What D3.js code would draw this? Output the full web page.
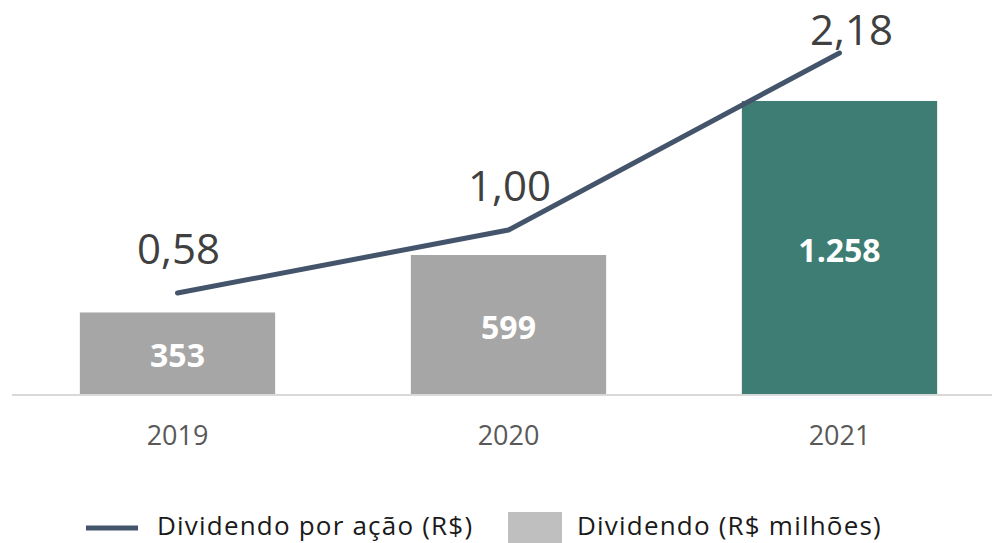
<!DOCTYPE html>
<html>
<head>
<meta charset="utf-8">
<script src="https://cdn.jsdelivr.net/npm/d3@7"></script>
<style>
  body { margin: 0; background: #fff; }
  .axis-label { font-family: "Open Sans", sans-serif; font-size: 27px; fill: #595959; }
  .value-label { font-family: "Open Sans", sans-serif; font-size: 42px; fill: #404040; }
  .bar-label { font-family: "Open Sans", sans-serif; font-size: 32px; font-weight: bold; fill: #fff; }
  .legend text { font-family: "Open Sans", sans-serif; font-size: 26px; letter-spacing: 1.2px; fill: #1a1a1a; }
</style>
</head>
<body>
<script>
// Chart data
var years = ["2019", "2020", "2021"];
var dividendTotal = [353, 599, 1258];        // R$ milhões (bars)
var dividendPerShare = [0.58, 1.00, 2.18];   // R$ por ação (line)
var barLabels = ["353", "599", "1.258"];
var lineLabels = ["0,58", "1,00", "2,18"];
var legendLabels = ["Dividendo por ação (R$)", "Dividendo (R$ milhões)"];

var width = 992,
    height = 543,
    baseline = 395;

var barColors = ["#a6a6a6", "#a6a6a6", "#3e7d74"];

var svg = d3.select("body").append("svg")
    .attr("width", width)
    .attr("height", height);

// Scales
var xScale = d3.scaleBand()
    .domain(years)
    .range([12, 1005])
    .paddingInner(0.41)
    .paddingOuter(0.205);

var yBar = d3.scaleLinear().domain([0, 1690]).range([baseline, 0]);
var yLine = d3.scaleLinear().domain([0, 2.5]).range([380, 5]);

var data = years.map(function(y, i) {
  return { year: y, total: dividendTotal[i], perShare: dividendPerShare[i],
           barLabel: barLabels[i], lineLabel: lineLabels[i], color: barColors[i] };
});

// Bars
svg.selectAll(".bar")
    .data(data)
  .enter().append("rect")
    .attr("class", "bar")
    .attr("x", function(d) { return xScale(d.year); })
    .attr("y", function(d) { return yBar(d.total); })
    .attr("width", xScale.bandwidth())
    .attr("height", function(d) { return baseline - yBar(d.total); })
    .attr("fill", function(d) { return d.color; });

svg.selectAll(".bar-label")
    .data(data)
  .enter().append("text")
    .attr("class", "bar-label")
    .attr("x", function(d) { return xScale(d.year) + xScale.bandwidth() / 2; })
    .attr("y", function(d) { return (yBar(d.total) + baseline) / 2 + 2; })
    .attr("dy", "0.36em")
    .attr("text-anchor", "middle")
    .text(function(d) { return d.barLabel; });

// Category axis
var xAxis = d3.axisBottom(xScale).tickSize(0).tickPadding(0);
var axisG = svg.append("g")
    .attr("transform", "translate(0," + baseline + ")")
    .call(xAxis);
axisG.select(".domain").remove();
axisG.selectAll("text")
    .attr("class", "axis-label")
    .attr("y", 50)
    .attr("dy", 0)
    .attr("font-size", null)
    .attr("font-family", null)
    .attr("fill", null);
axisG.append("line")
    .attr("x1", 12)
    .attr("x2", width)
    .attr("stroke", "#d9d9d9")
    .attr("stroke-width", 2);

// Line
var line = d3.line()
    .x(function(d) { return xScale(d.year) + xScale.bandwidth() / 2; })
    .y(function(d) { return yLine(d.perShare); });

svg.append("path")
    .datum(data)
    .attr("fill", "none")
    .attr("stroke", "#44546a")
    .attr("stroke-width", 5)
    .attr("stroke-linecap", "round")
    .attr("stroke-linejoin", "round")
    .attr("d", line);

// Line value labels, kept inside the top of the plot
var labelTop = 45;
svg.selectAll(".value-label")
    .data(data)
  .enter().append("text")
    .attr("class", "value-label")
    .attr("x", function(d) {
      var clamped = yLine(d.perShare) - 29 < labelTop;
      return xScale(d.year) + xScale.bandwidth() / 2 + (clamped ? 12 : 1);
    })
    .attr("y", function(d) { return Math.max(yLine(d.perShare) - 29, labelTop); })
    .attr("text-anchor", "middle")
    .text(function(d) { return d.lineLabel; });

// Legend
var legend = svg.append("g").attr("class", "legend");

legend.append("line")
    .attr("x1", 86).attr("x2", 138)
    .attr("y1", 528).attr("y2", 528)
    .attr("stroke", "#44546a")
    .attr("stroke-width", 5);
legend.append("text")
    .attr("x", 157).attr("y", 535)
    .text(legendLabels[0]);

legend.append("rect")
    .attr("x", 508).attr("y", 512)
    .attr("width", 54).attr("height", 31)
    .attr("fill", "#bfbfbf");
legend.append("text")
    .attr("x", 577).attr("y", 535)
    .text(legendLabels[1]);
</script>
</body>
</html>
